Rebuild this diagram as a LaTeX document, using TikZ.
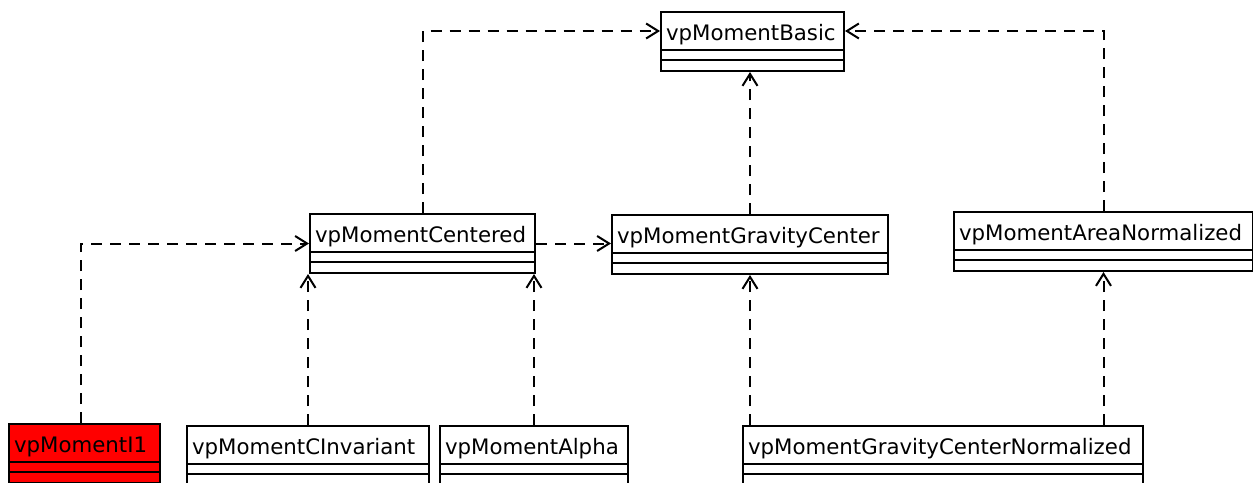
\documentclass[tikz,border=0pt]{standalone}
\usepackage{fontspec}
\setmainfont{DejaVu Sans}
\usetikzlibrary{arrows.meta}
\begin{document}
\begin{tikzpicture}[x=1pt,y=-1pt]
		\tikzstyle{umlclass}=[draw,line width=2pt,anchor=north west,inner xsep=5pt,inner ysep=0pt,text height=28pt,text depth=31pt,align=left,font=\fontsize{21.3}{24}\selectfont,
			path picture={\draw[line width=2pt] ([yshift=-38pt]path picture bounding box.north west) -- ([yshift=-38pt]path picture bounding box.north east) ([yshift=-48pt]path picture bounding box.north west) -- ([yshift=-48pt]path picture bounding box.north east);}]
		\tikzstyle{realize}=[line width=2pt,dash pattern=on 11pt off 8pt,-{Straight Barb[length=12pt,width=15pt]}]
		\useasboundingbox (0,0) rectangle (1253,482);

		\foreach \x / \y / \w / \n / \name / \col in {660/11/173/basic/vpMomentBasic/white,309/213/215/cen/vpMomentCentered/white,611/214/266/gc/vpMomentGravityCenter/white,953/211/289/area/vpMomentAreaNormalized/white,8/423/141/i1/vpMomentI1/red,186/425/232/cinv/vpMomentCInvariant/white,439/425/178/alpha/vpMomentAlpha/white,742/425/390/gcn/vpMomentGravityCenterNormalized/white} { \node[umlclass,fill=\col,text width=\w pt] (\n) at (\x,\y) {\name};}

		\draw[realize] (cen.north) |- ([yshift=-20pt]basic.north west);
		\draw[realize] (area.north) |- ([yshift=-20pt]basic.north east);
		\draw[realize] (gc.north) -- (gc.north |- basic.south);
		\draw[realize] (cen.east) -- (cen.east -| gc.west);
		\draw[realize] ([xshift=-4pt]i1.north) |- (cen.west);
		\draw[realize] (cinv.north) -- (cinv.north |- cen.south);
		\draw[realize] (alpha.north) -- (alpha.north |- cen.south);
		\draw[realize] (gcn.north -| gc.south) -- (gc.south);
		\draw[realize] (gcn.north -| area.south) -- (area.south);
	\end{tikzpicture}
\end{document}
